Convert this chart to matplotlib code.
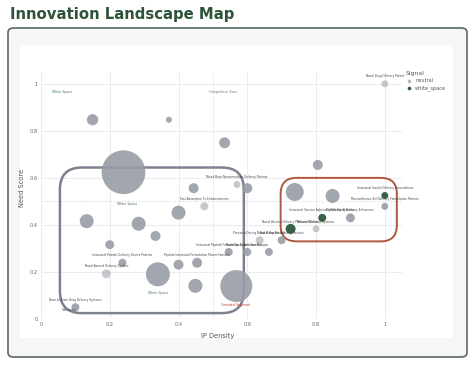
import matplotlib
matplotlib.use("Agg")
import matplotlib.pyplot as plt
from matplotlib.patches import FancyBboxPatch, Rectangle
from matplotlib.lines import Line2D
import numpy as np

# ---------------- data ----------------
ip_density = [0.15, 0.372, 0.534, 0.24, 0.444, 0.57, 0.475, 0.40, 1.0, 0.805,
              0.60, 0.738, 0.848, 1.0, 1.0, 0.818, 0.90, 0.726, 0.80, 0.636,
              0.70, 0.546, 0.60, 0.663, 0.568, 0.133, 0.284, 0.333, 0.20, 0.237,
              0.40, 0.454, 0.19, 0.34, 0.449, 0.10]
need_score = [0.847, 0.847, 0.749, 0.624, 0.556, 0.572, 0.479, 0.452, 1.0, 0.655,
              0.556, 0.54, 0.523, 0.525, 0.479, 0.43, 0.43, 0.383, 0.383, 0.335,
              0.335, 0.285, 0.285, 0.285, 0.14, 0.416, 0.405, 0.353, 0.316, 0.239,
              0.231, 0.239, 0.192, 0.19, 0.141, 0.05]
activity = [32, 9, 30, 480, 25, 12, 16, 49, 12, 25,
            25, 81, 49, 12, 12, 16, 20, 25, 12, 16,
            16, 16, 16, 16, 256, 49, 49, 25, 20, 16,
            25, 25, 20, 144, 49, 16]
signal = ["neutral"] * 36
for i in (13, 15, 17):
    signal[i] = "white_space"
confidence = [0.9] * 36
for i in (5, 6, 8, 18, 19, 32):
    confidence[i] = 0.55
labels = ["", "", "", "", "", "Mixed-Base Nanoemulsion Delivery Patents",
          "Fast Absorption Tx Enhancements", "", "Nasal Drug Delivery Patent", "",
          "", "", "", "Intranasal Insulin Delivery Formulations",
          "Mucoadhesive Gel Delivery Formulation Patents",
          "Intranasal Vaccine Adjuvant Delivery Systems", "Peptide Nasal Delivery Enhancers",
          "Nasal Vaccine Delivery Platform Patents", "Mucosal Delivery Systems",
          "Precision Dosing Nasal Pump Patents", "Nasal Powder Delivery Devices",
          "Intranasal Peptide Formulation Patent Families", "Nasal Spray Actuator Designs", "",
          "", "", "", "", "", "Intranasal Powder Delivery Device Patents",
          "", "Peptide Intranasal Formulation Patent Families",
          "Nasal Aerosol Delivery System", "", "", "Nose-to-Brain Drug Delivery Systems"]
zone_text = ["White Space", "Competitive Zone", "White Space", "White Space", "Crowded Segment", "Naloxone"]
zone_x = [0.06, 0.53, 0.25, 0.34, 0.565, 0.06]
zone_y = [0.965, 0.965, 0.49, 0.11, 0.06, 0.04]
zone_kind = ["space", "comp", "space", "space", "crowd", "plain"]
box_gray = [0.055, 0.59, 0.025, 0.644]
box_red = [0.697, 1.035, 0.33, 0.60]

# ---------------- figure ----------------
W, H, DPI = 476, 370, 100
fig = plt.figure(figsize=(W / DPI, H / DPI), dpi=DPI)
fig.patch.set_facecolor("white")

card = FancyBboxPatch((8 / W, 1 - 357 / H), 459 / W, 329 / H,
                      boxstyle="round,pad=0,rounding_size=0.012",
                      transform=fig.transFigure, facecolor="#f6f6f6",
                      edgecolor="#5b6a5d", linewidth=1.2, zorder=-3)
fig.patches.append(card)
paper = Rectangle((20 / W, 1 - 338 / H), 433 / W, 293 / H, transform=fig.transFigure,
                  facecolor="white", edgecolor="none", zorder=-2)
fig.patches.append(paper)

fig.text(10 / W, 1 - 15 / H, "Innovation Landscape Map", fontsize=10.7,
         fontweight="bold", color="#2e5339", va="center", ha="left")

ax = fig.add_axes([41 / W, 1 - 319 / H, 361 / W, 247 / H])
ax.set_facecolor("white")
ax.set_xlim(0, 1.05)
ax.set_ylim(0, 1.05)
for s in ax.spines.values():
    s.set_visible(False)
ticks = [0, 0.2, 0.4, 0.6, 0.8, 1]
ticklab = ["0", "0.2", "0.4", "0.6", "0.8", "1"]
ax.set_xticks(ticks)
ax.set_xticklabels(ticklab)
ax.set_yticks(ticks)
ax.set_yticklabels(ticklab)
ax.tick_params(length=0, labelsize=3.6, colors="#666666", pad=2.5)
ax.grid(True, color="#ececec", linewidth=0.7)
ax.set_axisbelow(True)
ax.axvline(0.5, color="#d9d9d9", linestyle=(0, (1, 1.5)), linewidth=0.8, zorder=0.6)
ax.axhline(0.5, color="#d9d9d9", linestyle=(0, (1, 1.5)), linewidth=0.8, zorder=0.6)
ax.set_xlabel("IP Density", fontsize=4.8, color="#555555", labelpad=3)
ax.xaxis.set_label_coords(0.49, -0.055)
ax.set_ylabel("Need Score", fontsize=4.8, color="#555555", labelpad=3)
ax.yaxis.set_label_coords(-0.045, 0.53)

# highlight boxes (rounded, aspect-corrected)
px_x = ax.get_position().width * W / 1.05
px_y = ax.get_position().height * H / 1.05
for b, col, lw, r_px in ((box_gray, "#7d8291", 1.8, 22), (box_red, "#b0573d", 1.4, 16)):
    asp = px_x / px_y
    p = FancyBboxPatch((b[0], b[2]), b[1] - b[0], b[3] - b[2],
                       boxstyle=f"round,pad=0,rounding_size={r_px / px_x}",
                       mutation_aspect=asp, facecolor="none", edgecolor=col,
                       linewidth=lw, transform=ax.transData, zorder=1)
    ax.add_patch(p)

colors = {"neutral": "#989ca7", "white_space": "#2d5b40"}
x = np.array(ip_density)
y = np.array(need_score)
sz = np.array(activity) * 2.07
for i in range(len(x)):
    ax.scatter(x[i], y[i], s=sz[i], color=colors[signal[i]],
               alpha=confidence[i] if signal[i] == "neutral" else 0.95,
               edgecolors="none", zorder=3)
    if labels[i]:
        ax.annotate(labels[i], (x[i], y[i]), xytext=(0, 5.3), textcoords="offset points",
                    ha="center", va="center", fontsize=2.1, color="#444444", zorder=4)

kind_col = {"space": "#4f7a5e", "comp": "#777777", "crowd": "#c0392b", "plain": "#555555"}
for t, zx, zy, k in zip(zone_text, zone_x, zone_y, zone_kind):
    ax.text(zx, zy, t, fontsize=2.3, color=kind_col[k], ha="left" if k in ("plain",) else "center",
            va="center", zorder=4)

handles = [Line2D([], [], marker="o", linestyle="none", markersize=2.6,
                  markerfacecolor="#b3b6bd", markeredgecolor="none", label="neutral"),
           Line2D([], [], marker="o", linestyle="none", markersize=2.6,
                  markerfacecolor="#2d5b40", markeredgecolor="none", label="white_space")]
leg = fig.legend(handles=handles, title="Signal", loc="upper left",
                 bbox_to_anchor=(404 / W, 1 - 69 / H), frameon=False,
                 fontsize=3.6, title_fontsize=4.4, handletextpad=0.6,
                 labelspacing=0.45, borderaxespad=0, handlelength=1.2)
leg._legend_box.align = "left"
for t in leg.get_texts():
    t.set_color("#555555")
leg.get_title().set_color("#555555")

fig.savefig("out.png", dpi=DPI, facecolor="white")
